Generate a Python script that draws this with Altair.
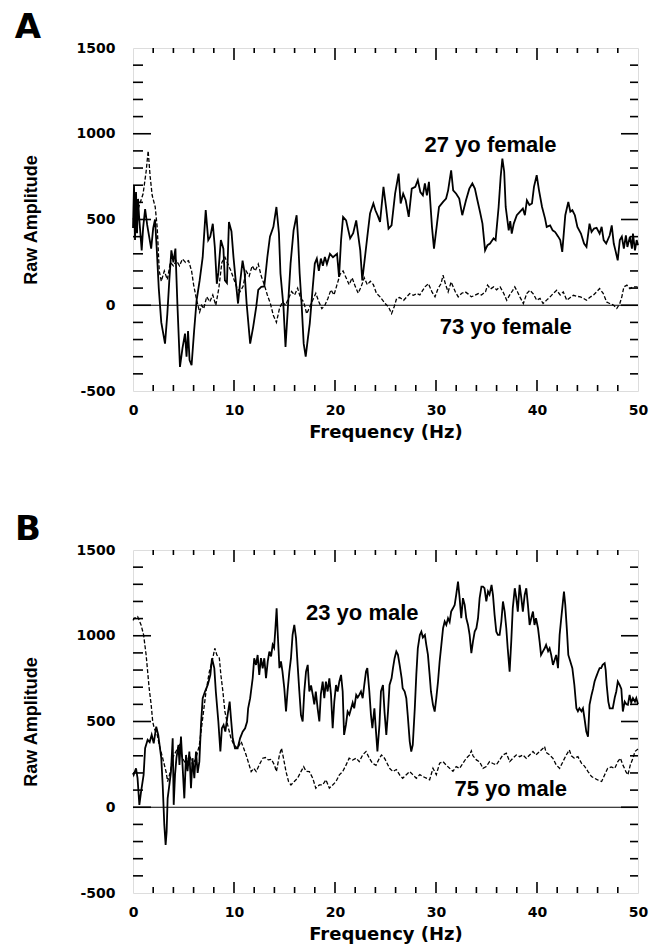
import altair as alt
import pandas as pd

# ---------------- data ----------------
# Panel A: 27 yo female (solid)
a_young_hz = [0.0, 0.1, 0.2, 0.3, 0.4, 0.5, 0.6, 0.86, 1.0, 1.2, 1.4, 1.6, 1.8, 2.0, 2.18, 2.35, 2.55, 2.8, 3.17,
              3.4, 3.6, 3.8, 4.0, 4.2, 4.4, 4.65, 4.9, 5.15, 5.3, 5.45, 5.6, 5.8, 6.05, 6.3, 6.6, 6.9, 7.2, 7.45,
              7.65, 7.9, 8.1, 8.3, 8.45, 8.7, 8.95, 9.1, 9.3, 9.5, 9.75, 9.95, 10.2, 10.4, 10.6, 10.85, 11.05,
              11.25, 11.6, 11.9, 12.2, 12.4, 12.7, 13.0, 13.3, 13.56, 13.9, 14.2, 14.45, 14.6, 14.9, 15.1, 15.35,
              15.6, 15.9, 16.2, 16.35, 16.5, 16.7, 16.9, 17.1, 17.3, 17.5, 17.8, 18.0, 18.2, 18.4, 18.6, 18.8,
              19.0, 19.2, 19.5, 19.8, 20.2, 20.4, 20.6, 20.8, 21.1, 21.5, 21.8, 22.1, 22.5, 22.7, 22.97, 23.2,
              23.47, 23.8, 24.0, 24.25, 24.46, 24.8, 25.05, 25.3, 25.6, 25.95, 26.3, 26.5, 26.75, 27.0, 27.3,
              27.6, 27.95, 28.2, 28.45, 28.7, 28.9, 29.1, 29.3, 29.6, 29.8, 30.1, 30.3, 30.7, 31.0, 31.2, 31.5,
              31.7, 32.0, 32.3, 32.6, 32.97, 33.3, 33.6, 33.85, 34.1, 34.36, 34.6, 34.86, 35.1, 35.35, 35.7,
              35.9, 36.2, 36.4, 36.57, 36.75, 36.9, 37.2, 37.35, 37.5, 37.7, 38.0, 38.3, 38.6, 38.8, 39.0,
              39.25, 39.5, 39.7, 39.97, 40.2, 40.5, 40.8, 40.96, 41.3, 41.55, 41.8, 42.1, 42.3, 42.5, 42.8,
              43.1, 43.3, 43.5, 43.75, 44.0, 44.35, 44.66, 44.9, 45.2, 45.4, 45.65, 45.9, 46.2, 46.4, 46.6,
              46.85, 47.2, 47.4, 47.6, 47.8, 47.99, 48.2, 48.4, 48.6, 48.8, 48.95, 49.2, 49.4, 49.5, 49.7,
              49.87, 50.0]
a_young_amp = [450, 700, 380, 660, 420, 620, 520, 320, 450, 560, 470, 400, 330, 450, 500, 330, 100, -100, -224,
               -50, 150, 320, 250, 330, 0, -360, -250, -165, -300, -150, -320, -350, -150, 30, 145, 280, 555, 380,
               400, 475, 340, 125, 190, 380, 330, 145, 130, 485, 430, 280, 125, 10, 130, 260, 190,
               10, -224, -126, -10, 90, 107, 110, 280, 400, 457, 573, 420, 185, -10, -243, 0,
               243, 437, 525, 380, 185, 0, -224, -300, -200, -107, 107, 243, 272, 200, 272, 230,
               282, 240, 300, 280, 300, 165, 380, 515, 495, 390, 420, 495, 320, 145, 282, 400,
               535, 593, 554, 520, 486, 690, 573, 447, 466, 651, 768, 593, 650, 612, 515,
               680, 690, 729, 660, 641, 710, 641, 720, 457, 330, 476, 573, 603, 622, 670, 787,
               670, 650, 622, 525, 612, 680, 710, 680, 612, 544, 476, 320, 350, 360, 390,
               380, 573, 748, 855, 780, 573, 437, 490, 418, 476, 525, 545, 564, 525, 612,
               585, 593, 690, 758, 670, 573, 505, 457, 466, 437, 427, 400, 380, 311, 525,
               603, 545, 554, 525, 457, 418, 360, 340, 476, 427, 447, 452, 418, 457, 380,
               360, 408, 466, 360, 311, 262, 380, 400, 330, 408, 340, 400, 330, 418, 320,
               380, 350]

# Panel A: 73 yo female (dashed)
a_old_hz = [0.0, 0.5, 1.0, 1.3, 1.5, 1.7, 1.9, 2.2, 2.4, 2.6, 2.8, 3.1, 3.4, 3.7, 4.0, 4.3, 4.6, 4.9, 5.2, 5.5,
            5.8, 6.0, 6.3, 6.6, 6.8, 7.0, 7.3, 7.6, 7.9, 8.2, 8.5, 8.8, 9.1, 9.4, 9.7, 10.0, 10.3, 10.6, 10.9,
            11.2, 11.5, 11.8, 12.1, 12.4, 12.7, 13.0, 13.3, 13.6, 13.9, 14.2, 14.5, 14.8, 15.1, 15.4, 15.7,
            16.0, 16.3, 16.6, 16.9, 17.2, 17.5, 17.8, 18.1, 18.4, 18.7, 19.0, 19.3, 19.6, 19.9, 20.2, 20.5,
            20.8, 21.1, 21.4, 21.7, 22.0, 22.3, 22.6, 22.9, 23.2, 23.5, 23.8, 24.1, 24.46, 24.96, 25.3, 25.6,
            25.85, 26.1, 26.4, 26.8, 27.1, 27.4, 27.75, 28.1, 28.4, 28.9, 29.25, 29.6, 29.9, 30.2, 30.5,
            30.7, 30.95, 31.2, 31.5, 31.9, 32.2, 32.55, 32.9, 33.2, 33.5, 33.85, 34.2, 34.5, 34.9, 35.1,
            35.4, 35.7, 36.0, 36.35, 36.7, 37.0, 37.3, 37.6, 37.8, 38.05, 38.3, 38.65, 38.98, 39.3, 39.65,
            39.97, 40.3, 40.6, 40.95, 41.3, 41.6, 41.95, 42.3, 42.6, 42.95, 43.3, 43.6, 43.95, 44.3, 44.6,
            44.9, 45.3, 45.6, 45.9, 46.2, 46.55, 46.9, 47.2, 47.6, 47.9, 48.2, 48.4, 48.6, 48.9, 49.2, 49.5,
            49.9, 50.0]
a_old_amp = [500, 560, 650, 780, 900, 750, 640, 573, 450, 200, 140, 200, 150, 250, 230, 260, 230, 270, 250, 260,
             200, 120, 30, -40, 0, -20, 50, 20, 60, 0, 100, 250, 280, 240, 200, 150, 100, 80, 110,
             200, 170, 230, 200, 240, 170, 120, 60, 10, -60, -100, -20, 20, 0, 40, 80,
             60, 100, 40, 20, -50, -10, 30, 70, 20, -20, 0, 40, 90, 60, 120, 180,
             200, 160, 120, 160, 110, 70, 110, 160, 120, 140, 120, 70, 49, 10, -10, -49,
             -10, 39, 45, 29, 49, 68, 58, 68, 60, 107, 126, 78, 49, 97, 126,
             175, 120, 78, 136, 80, 49, 70, 78, 65, 49, 58, 68, 60, 78, 117,
             95, 107, 90, 107, 70, 29, 60, 87, 107, 80, 49, 10, 68, 87, 65,
             29, 40, 10, 30, 49, 68, 87, 60, 78, 29, 45, 58, 52, 49, 40,
             29, 49, 60, 78, 97, 70, 19, 10, 0, -19, 10, 49, 107, 117, 97, 107,
             107, 100]

# Panel B: 23 yo male (solid)
b_young_hz = [0.0, 0.07, 0.3, 0.45, 0.63, 0.8, 1.05, 1.2, 1.45, 1.65, 1.85, 2.05, 2.3, 2.5, 2.8, 2.94, 3.1, 3.23,
              3.33, 3.43, 3.6, 3.76, 3.93, 4.03, 4.16, 4.3, 4.5, 4.6, 4.75, 4.9, 5.08, 5.25, 5.4, 5.58, 5.74,
              5.9, 6.07, 6.24, 6.4, 6.57, 6.73, 6.9, 7.13, 7.4, 7.66, 7.82, 8.05, 8.2, 8.45, 8.65, 8.8, 8.97,
              9.14, 9.37, 9.57, 9.7, 9.87, 10.1, 10.36, 10.6, 10.86, 11.1, 11.3, 11.4, 11.6, 11.85, 12.0,
              12.18, 12.34, 12.5, 12.67, 12.84, 13.0, 13.17, 13.34, 13.5, 13.67, 13.83, 13.97, 14.1, 14.22,
              14.32, 14.5, 14.65, 14.8, 14.98, 15.15, 15.3, 15.48, 15.64, 15.8, 15.97, 16.14, 16.3, 16.47,
              16.63, 16.8, 16.96, 17.13, 17.3, 17.46, 17.63, 17.8, 17.95, 18.1, 18.28, 18.45, 18.6, 18.78,
              18.94, 19.1, 19.27, 19.44, 19.6, 19.77, 19.93, 20.1, 20.26, 20.43, 20.6, 20.76, 20.9, 21.08,
              21.25, 21.42, 21.6, 21.75, 21.9, 22.1, 22.25, 22.4, 22.57, 22.74, 22.9, 23.07, 23.2, 23.4,
              23.56, 23.7, 23.9, 24.06, 24.2, 24.4, 24.55, 24.75, 24.9, 25.08, 25.25, 25.4, 25.6, 25.74,
              25.9, 26.07, 26.23, 26.4, 26.6, 26.7, 26.9, 27.06, 27.2, 27.4, 27.55, 27.7, 27.9, 28.05, 28.2,
              28.4, 28.55, 28.7, 28.9, 29.04, 29.2, 29.37, 29.5, 29.7, 29.87, 30.03, 30.2, 30.36, 30.53,
              30.7, 30.86, 31.02, 31.19, 31.35, 31.5, 31.68, 31.85, 32.0, 32.18, 32.34, 32.5, 32.67, 32.84,
              33.0, 33.17, 33.33, 33.5, 33.66, 33.83, 34.0, 34.16, 34.32, 34.5, 34.65, 34.8, 34.98, 35.15,
              35.3, 35.5, 35.64, 35.8, 35.97, 36.13, 36.3, 36.47, 36.63, 36.8, 36.96, 37.1, 37.29, 37.45,
              37.6, 37.8, 37.95, 38.1, 38.28, 38.45, 38.6, 38.78, 38.94, 39.1, 39.27, 39.43, 39.6, 39.75,
              39.9, 40.1, 40.26, 40.4, 40.6, 40.76, 40.9, 41.1, 41.25, 41.4, 41.58, 41.75, 41.9, 42.08,
              42.24, 42.4, 42.57, 42.67, 42.8, 42.97, 43.1, 43.3, 43.5, 43.7, 43.9, 44.05, 44.2, 44.4, 44.55,
              44.7, 44.88, 45.05, 45.2, 45.4, 45.55, 45.7, 45.87, 46.05, 46.2, 46.35, 46.5, 46.7, 46.8, 46.9,
              47.06, 47.2, 47.5, 47.7, 47.85, 48.0, 48.18, 48.35, 48.5, 48.68, 48.85, 49.0, 49.17, 49.33,
              49.5, 49.7, 49.83, 50.0]
b_young_amp = [200, 189, 227, 170, 14, 91, 189, 344, 393, 380, 422, 373, 470, 422, 286, 130, -103, -220,
               -142, 52, 130, 208, 402, 14, 189, 286, 363, 247, 412, 250, 52, 305, 210, 325, 111,
               286, 169, 325, 200, 266, 480, 636, 675, 713, 772, 869, 811, 675, 500, 325, 461, 480,
               441, 538, 616, 519, 402, 344, 344, 402, 441, 460, 500, 577, 636, 752, 869,
               830, 888, 772, 869, 810, 869, 752, 850, 908, 880, 947, 930, 1044, 1160,
               1025, 811, 850, 791, 694, 558, 675, 791, 869, 1005, 1063, 986, 830, 675,
               538, 500, 675, 791, 830, 675, 710, 655, 600, 675, 577, 500, 660, 733,
               636, 733, 675, 752, 660, 461, 616, 713, 675, 733, 772, 675, 422, 480,
               558, 540, 577, 610, 577, 655, 640, 655, 675, 636, 713, 791, 811, 675,
               538, 461, 577, 441, 325, 480, 675, 713, 558, 422, 560, 713, 752, 811,
               869, 908, 890, 830, 752, 694, 675, 636, 538, 383, 325, 363, 577, 772, 927,
               1005, 1024, 990, 1005, 947, 890, 772, 675, 597, 558, 636, 733, 850, 947,
               1044, 1083, 1063, 1102, 1080, 1141, 1160, 1180, 1238, 1316, 1219, 1102, 1219, 1180,
               1102, 1063, 1005, 898, 966, 1024, 1044, 1102, 1219, 1287, 1287, 1277, 1200, 1258,
               1240, 1297, 1238, 1122, 1024, 1005, 1005, 1083, 1200, 1141, 1044, 927, 791, 966,
               1160, 1277, 1219, 1141, 1297, 1219, 1141, 1238, 1277, 1180, 1063, 1102, 1141, 1063,
               1102, 1044, 966, 888, 910, 927, 947, 910, 927, 890, 830, 860, 888, 811,
               1005, 1102, 1200, 1258, 1180, 1024, 888, 850, 811, 713, 577, 560, 577, 560, 577,
               519, 441, 412, 597, 655, 690, 733, 762, 790, 811, 811, 830, 840, 800, 713,
               616, 577, 577, 640, 675, 733, 713, 690, 558, 616, 600, 597, 655, 610,
               636, 616, 636, 600]

# Panel B: 75 yo male (dashed)
b_old_hz = [0.0, 0.13, 0.46, 0.8, 1.05, 1.3, 1.45, 1.6, 1.8, 1.95, 2.1, 2.4, 2.6, 2.94, 3.27, 3.43, 3.7, 3.9, 4.25,
            4.6, 4.9, 5.25, 5.6, 5.9, 6.24, 6.57, 6.9, 7.23, 7.56, 7.9, 8.1, 8.3, 8.55, 8.7, 8.9, 9.1, 9.37,
            9.7, 10.0, 10.36, 10.7, 10.96, 11.2, 11.4, 11.7, 11.95, 12.2, 12.5, 12.84, 13.1, 13.4, 13.7, 14.0,
            14.2, 14.5, 14.7, 14.9, 15.15, 15.4, 15.64, 15.97, 16.3, 16.63, 16.9, 17.13, 17.46, 17.8, 18.1,
            18.45, 18.78, 19.1, 19.44, 19.77, 20.1, 20.43, 20.76, 21.1, 21.4, 21.75, 22.1, 22.4, 22.74,
            23.07, 23.4, 23.7, 24.06, 24.4, 24.6, 24.9, 25.08, 25.4, 25.74, 26.07, 26.4, 26.7, 27.06, 27.4,
            27.7, 28.05, 28.4, 28.7, 29.04, 29.37, 29.7, 30.03, 30.36, 30.7, 31.02, 31.35, 31.68, 32.0,
            32.34, 32.67, 33.0, 33.33, 33.5, 33.66, 34.0, 34.32, 34.65, 34.98, 35.3, 35.64, 35.97, 36.3,
            36.63, 36.96, 37.3, 37.6, 37.95, 38.28, 38.6, 38.94, 39.27, 39.6, 39.9, 40.26, 40.6, 40.75,
            40.9, 41.25, 41.58, 41.9, 42.24, 42.57, 42.9, 43.2, 43.4, 43.7, 44.05, 44.4, 44.7, 45.05, 45.4,
            45.7, 46.0, 46.4, 46.7, 47.0, 47.35, 47.7, 48.0, 48.25, 48.5, 48.8, 49.0, 49.24, 49.5, 49.7,
            50.0]
b_old_amp = [1090, 1102, 1112, 1063, 1005, 888, 791, 694, 597, 500, 461, 422, 363, 286, 208, 150, 208, 286, 325,
             363, 286, 250, 305, 247, 286, 363, 519, 675, 791, 869, 927, 888, 869, 772, 675, 558, 480,
             402, 363, 344, 383, 344, 305, 266, 208, 227, 208, 247, 286, 290, 276, 280, 247,
             208, 305, 344, 286, 208, 150, 130, 150, 170, 208, 237, 210, 208, 169, 111,
             130, 130, 160, 111, 130, 150, 189, 208, 247, 286, 275, 286, 266, 305,
             325, 286, 257, 245, 286, 305, 286, 266, 227, 208, 220, 189, 169, 190, 208,
             190, 169, 190, 179, 170, 160, 227, 190, 257, 266, 245, 227, 210, 237,
             227, 257, 286, 305, 329, 300, 276, 265, 227, 237, 266, 255, 247, 276,
             305, 315, 266, 285, 305, 295, 305, 285, 305, 325, 305, 325, 344, 354,
             320, 305, 285, 247, 227, 266, 305, 334, 300, 286, 295, 257, 240, 208, 179,
             169, 160, 150, 189, 227, 235, 227, 266, 286, 247, 208, 189, 247, 286, 325,
             340]

x_major = [0, 10, 20, 30, 40, 50]
x_minor = [2, 4, 6, 8, 12, 14, 16, 18, 22, 24, 26, 28, 32, 34, 36, 38, 42, 44, 46, 48]
y_major = [-500, 0, 500, 1000, 1500]
y_minor = [-400, -300, -200, -100, 100, 200, 300, 400, 600, 700, 800, 900,
           1100, 1200, 1300, 1400]

# ---------------- chart ----------------
W, H = 505, 343
TICK_FONT = "DejaVu Sans"
xs = alt.Scale(domain=[0, 50], nice=False, zero=False)
ys = alt.Scale(domain=[-500, 1500], nice=False)

x_axis = alt.Axis(values=x_major, labelExpr="'' + datum.value", grid=False, domain=False, ticks=False,
                  labelPadding=12,
                  labelFont=TICK_FONT, labelFontWeight="bold", labelFontSize=14, labelColor="black",
                  titleFont=TICK_FONT, titleFontWeight="bold", titleFontSize=18, titleColor="black",
                  titlePadding=6, labelFlush=False)
y_axis = alt.Axis(values=y_major, labelExpr="'' + datum.value", grid=False, domain=False, ticks=False,
                  labelPadding=18,
                  labelFont=TICK_FONT, labelFontWeight="bold", labelFontSize=14, labelColor="black",
                  titleFont="Liberation Sans", titleFontWeight="bold", titleFontSize=18,
                  titleColor="black", titlePadding=36)


def X(field="f"):
    return alt.X(field + ":Q", scale=xs, axis=x_axis, title="Frequency (Hz)")


def Y(field="v"):
    return alt.Y(field + ":Q", scale=ys, axis=y_axis, title="Raw Amplitude")


def tick_layers():
    layers = []
    xmaj = pd.DataFrame({"f": x_major[1:-1]})
    xmin = pd.DataFrame({"f": x_minor})
    ymaj = pd.DataFrame({"v": y_major[1:-1]})
    ymin = pd.DataFrame({"v": y_minor})
    rule = dict(color="black", strokeWidth=1.6)
    # bottom
    layers.append(alt.Chart(xmaj).mark_rule(**rule).encode(x=X(), y=alt.value(H), y2=alt.value(H - 11)))
    layers.append(alt.Chart(xmin).mark_rule(**rule).encode(x=X(), y=alt.value(H), y2=alt.value(H - 6)))
    # top
    layers.append(alt.Chart(xmaj).mark_rule(**rule).encode(x=X(), y=alt.value(0), y2=alt.value(12)))
    layers.append(alt.Chart(xmin).mark_rule(**rule).encode(x=X(), y=alt.value(0), y2=alt.value(5)))
    # left
    layers.append(alt.Chart(ymaj).mark_rule(**rule).encode(y=Y(), x=alt.value(0), x2=alt.value(18)))
    layers.append(alt.Chart(ymin).mark_rule(**rule).encode(y=Y(), x=alt.value(0), x2=alt.value(10)))
    # right
    layers.append(alt.Chart(ymaj).mark_rule(**rule).encode(y=Y(), x=alt.value(W), x2=alt.value(W - 17)))
    layers.append(alt.Chart(ymin).mark_rule(**rule).encode(y=Y(), x=alt.value(W), x2=alt.value(W - 8)))
    return layers


def panel(young_hz, young_amp, old_hz, old_amp, letter, lab_young, pos_young, lab_old, pos_old):
    young = pd.DataFrame({"f": young_hz, "v": young_amp})
    old = pd.DataFrame({"f": old_hz, "v": old_amp})
    zero = alt.Chart(pd.DataFrame({"v": [0]})).mark_rule(color="black", strokeWidth=1).encode(
        y=Y(), x=alt.value(0), x2=alt.value(W))
    l_old = alt.Chart(old).mark_line(color="black", strokeWidth=1.3, strokeDash=[4, 2]).encode(
        x=X(), y=Y(), order="f:Q")
    l_young = alt.Chart(young).mark_line(color="black", strokeWidth=1.8).encode(
        x=X(), y=Y(), order="f:Q")
    txt = dict(font="Liberation Sans", fontWeight="bold", fontSize=22, color="black",
               align="center", baseline="middle")
    t1 = alt.Chart(pd.DataFrame({"f": [pos_young[0]], "v": [pos_young[1]], "s": [lab_young]})).mark_text(
        **txt).encode(x=X(), y=Y(), text="s:N")
    t2 = alt.Chart(pd.DataFrame({"f": [pos_old[0]], "v": [pos_old[1]], "s": [lab_old]})).mark_text(
        **txt).encode(x=X(), y=Y(), text="s:N")
    let = alt.Chart(pd.DataFrame({"s": [letter]})).mark_text(
        font="DejaVu Sans", fontWeight="bold", fontSize=34, color="black", align="center",
        baseline="alphabetic").encode(x=alt.value(-105), y=alt.value(-10), text="s:N")
    return alt.layer(zero, l_old, l_young, t1, t2, let, *tick_layers()).properties(width=W, height=H)


pa = panel(a_young_hz, a_young_amp, a_old_hz, a_old_amp, "A",
           "27 yo female", (35.4, 933), "73 yo female", (36.9, -128))
pb = panel(b_young_hz, b_young_amp, b_old_hz, b_old_amp, "B",
           "23 yo male", (22.7, 1131), "75 yo male", (37.4, 105))

chart = alt.vconcat(pa, pb, spacing=70).properties(
    padding={"left": 14, "top": 10, "right": 5, "bottom": 2}
).configure_view(stroke="black", strokeWidth=2.5).configure(background="white")

chart.save("out.html", embed_options={"renderer": "svg", "actions": False})
